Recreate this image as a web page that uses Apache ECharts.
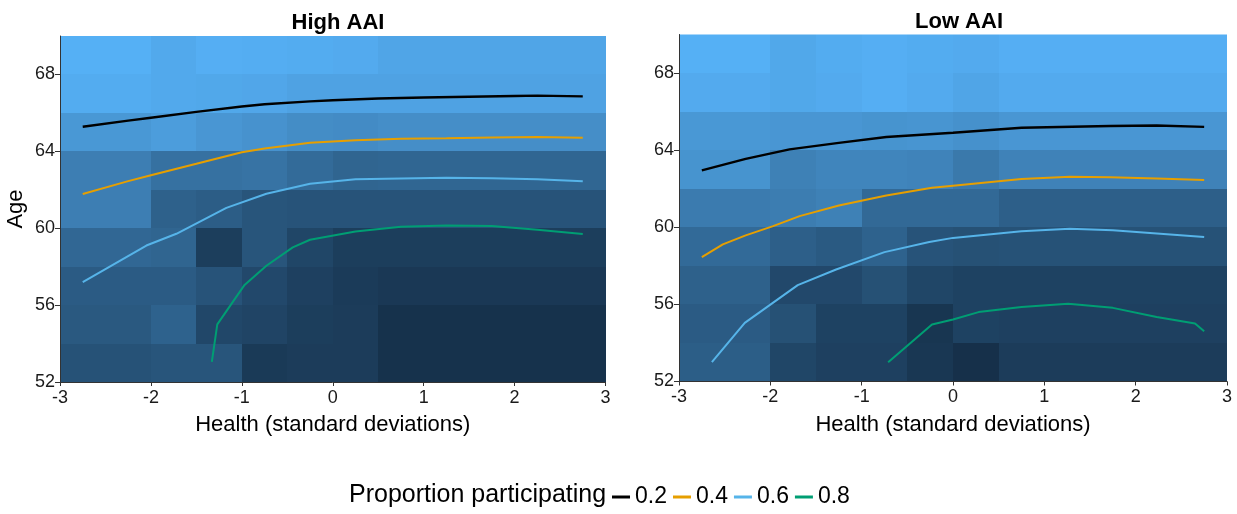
<!DOCTYPE html>
<html>
<head>
<meta charset="utf-8">
<script src="https://cdn.jsdelivr.net/npm/echarts@6/dist/echarts.min.js"></script>
<style>
  html, body { margin: 0; padding: 0; background: #ffffff; }
  #chart { width: 1237px; height: 514px; }
</style>
</head>
<body>
<div id="chart"></div>
<script>
// Health bins (standard deviations) and age bands used for the shaded tiles
const healthEdges = [-3, -2, -1.5, -1, -0.5, 0, 0.5, 3];
const ageEdges = [52, 54, 56, 58, 60, 62, 64, 66, 68, 70];

// Tile shade on the colour scale (0 = dark navy, 1 = light blue),
// one row per age band from 52-54 upwards, one column per health bin
const highShade = [
  [0.29, 0.31, 0.31, 0.11, 0.13, 0.13, 0.05],
  [0.34, 0.41, 0.21, 0.19, 0.14, 0.13, 0.05],
  [0.36, 0.36, 0.30, 0.22, 0.16, 0.12, 0.10],
  [0.45, 0.43, 0.14, 0.31, 0.20, 0.14, 0.14],
  [0.62, 0.40, 0.37, 0.31, 0.30, 0.30, 0.30],
  [0.62, 0.52, 0.52, 0.54, 0.48, 0.43, 0.44],
  [0.81, 0.85, 0.80, 0.77, 0.73, 0.72, 0.74],
  [0.96, 0.94, 0.93, 0.92, 0.89, 0.89, 0.89],
  [0.99, 0.94, 0.98, 0.97, 0.96, 0.95, 0.91]
];
const lowShade = [
  [0.38, 0.20, 0.16, 0.16, 0.09, 0.04, 0.13],
  [0.36, 0.28, 0.17, 0.17, 0.08, 0.17, 0.16],
  [0.40, 0.22, 0.22, 0.28, 0.20, 0.17, 0.17],
  [0.47, 0.39, 0.35, 0.41, 0.30, 0.28, 0.29],
  [0.60, 0.61, 0.64, 0.46, 0.46, 0.46, 0.39],
  [0.78, 0.64, 0.67, 0.67, 0.66, 0.58, 0.65],
  [0.81, 0.80, 0.80, 0.78, 0.79, 0.76, 0.80],
  [0.95, 0.93, 0.95, 0.98, 0.95, 0.91, 0.95],
  [0.99, 0.93, 0.96, 0.98, 0.96, 0.95, 0.98]
];

// Contour levels of the proportion participating and their colours
const levels = ['0.2', '0.4', '0.6', '0.8'];
const levelColors = ['#000000', '#E69F00', '#56B4E9', '#009E73'];

// Contours, [health, age] — High AAI
const high02 = [[-2.75, 65.28], [-2.25, 65.6], [-2, 65.75], [-1.5, 66.05], [-1, 66.33], [-0.75, 66.45],
  [-0.25, 66.6], [0, 66.66], [0.5, 66.75], [1, 66.8], [1.5, 66.84], [2, 66.88], [2.25, 66.9], [2.75, 66.86]];
const high04 = [[-2.75, 61.78], [-2.25, 62.45], [-2, 62.76], [-1.5, 63.35], [-1, 63.95], [-0.75, 64.15],
  [-0.25, 64.45], [0.25, 64.58], [0.75, 64.65], [1.25, 64.68], [1.75, 64.72], [2.25, 64.75], [2.75, 64.71]];
const high06 = [[-2.75, 57.19], [-2.05, 59.1], [-1.72, 59.71], [-1.17, 61.06], [-0.73, 61.79], [-0.25, 62.31],
  [0.25, 62.55], [1.25, 62.62], [1.75, 62.6], [2.25, 62.55], [2.75, 62.45]];
const high08 = [[-1.33, 53.05], [-1.27, 55.0], [-0.97, 57.05], [-0.73, 58.05], [-0.44, 59.0], [-0.25, 59.4],
  [0.25, 59.83], [0.75, 60.08], [1.25, 60.14], [1.75, 60.12], [2.25, 59.92], [2.75, 59.7]];

// Contours, [health, age] — Low AAI
const low02 = [[-2.75, 62.95], [-2.27, 63.55], [-1.79, 64.04], [-1.25, 64.38], [-0.73, 64.68], [0, 64.9],
  [0.75, 65.16], [1.72, 65.25], [2.23, 65.28], [2.75, 65.21]];
const low04 = [[-2.75, 58.45], [-2.52, 59.11], [-2.27, 59.58], [-1.97, 60.06], [-1.68, 60.58], [-1.25, 61.13],
  [-0.73, 61.65], [-0.23, 62.05], [0, 62.16], [0.75, 62.51], [1.28, 62.62], [1.72, 62.6], [2.23, 62.53], [2.75, 62.45]];
const low06 = [[-2.64, 53.0], [-2.28, 55.04], [-1.7, 57.0], [-1.28, 57.81], [-0.75, 58.71], [-0.26, 59.24],
  [0, 59.45], [0.75, 59.8], [1.28, 59.92], [1.75, 59.85], [2.75, 59.49]];
const low08 = [[-0.71, 53.0], [-0.23, 54.96], [0, 55.22], [0.28, 55.6], [0.75, 55.87], [1.26, 56.03],
  [1.75, 55.82], [2.23, 55.35], [2.65, 55.01], [2.75, 54.61]];

const panelTitles = ['High AAI', 'Low AAI'];
const xTitle = 'Health (standard deviations)';
const yTitle = 'Age';
const legendTitle = 'Proportion participating';
const xTicks = [-3, -2, -1, 0, 1, 2, 3];
const yTicks = [52, 56, 60, 64, 68];

const FONT = '"Liberation Sans", Arial, Helvetica, sans-serif';

// Turn a shade matrix into tile records [x0, x1, y0, y1, shade]
function tiles(shade) {
  const out = [];
  for (let r = 0; r < shade.length; r++) {
    for (let c = 0; c < shade[r].length; c++) {
      out.push([healthEdges[c], healthEdges[c + 1], ageEdges[r], ageEdges[r + 1], shade[r][c]]);
    }
  }
  return out;
}

// Tiles snap to whole pixels so neighbouring cells meet without seams
function renderTile(params, api) {
  const topLeft = api.coord([api.value(0), api.value(3)]);
  const bottomRight = api.coord([api.value(1), api.value(2)]);
  const x0 = Math.round(topLeft[0]);
  const y0 = Math.round(topLeft[1]);
  const x1 = Math.round(bottomRight[0]);
  const y1 = Math.round(bottomRight[1]);
  return {
    type: 'rect',
    shape: { x: x0, y: y0, width: x1 - x0, height: y1 - y0 },
    style: { fill: api.visual('color') }
  };
}

function xAxisFor(gridIndex) {
  return {
    type: 'value', gridIndex, min: -3, max: 3, interval: 1, z: 10,
    name: xTitle, nameLocation: 'middle', nameGap: 32,
    nameTextStyle: { fontSize: 22, color: '#000', fontFamily: FONT },
    axisLine: { show: true, onZero: false, lineStyle: { color: '#333', width: 1 } },
    axisTick: { show: true, length: 4, lineStyle: { color: '#333' }, customValues: xTicks },
    axisLabel: { fontSize: 18, color: '#1a1a1a', margin: 7, fontFamily: FONT, customValues: xTicks },
    splitLine: { show: false }
  };
}

function yAxisFor(gridIndex, withName) {
  return {
    type: 'value', gridIndex, min: 52, max: 70, interval: 4, z: 10,
    name: withName ? yTitle : '', nameLocation: 'middle', nameGap: 33,
    nameTextStyle: { fontSize: 22, color: '#000', fontFamily: FONT },
    axisLine: { show: true, onZero: false, lineStyle: { color: '#333', width: 1 } },
    axisTick: { show: true, length: 5, lineStyle: { color: '#333' }, customValues: yTicks },
    axisLabel: { fontSize: 18, color: '#1a1a1a', margin: 5, fontFamily: FONT, customValues: yTicks },
    splitLine: { show: false }
  };
}

function contour(name, data, colorIndex, axisIndex) {
  const color = levelColors[colorIndex];
  return {
    type: 'line', name, data,
    xAxisIndex: axisIndex, yAxisIndex: axisIndex,
    symbol: 'none', smooth: false, silent: true, z: 5,
    color,
    lineStyle: { color, width: colorIndex === 0 ? 2.4 : 2 }
  };
}

const chart = echarts.init(document.getElementById('chart'), null, { renderer: 'canvas' });

chart.setOption({
  backgroundColor: '#ffffff',
  animation: false,
  textStyle: { fontFamily: FONT },
  title: [
    { text: panelTitles[0], left: 333, top: 7, textAlign: 'center',
      textStyle: { fontSize: 22, fontWeight: 'bold', color: '#000', fontFamily: FONT } },
    { text: panelTitles[1], left: 954, top: 6, textAlign: 'center',
      textStyle: { fontSize: 22, fontWeight: 'bold', color: '#000', fontFamily: FONT } }
  ],
  grid: [
    { left: 60, top: 36, width: 545.5, height: 346 },
    { left: 679, top: 34.5, width: 548, height: 347 }
  ],
  xAxis: [xAxisFor(0), xAxisFor(1)],
  yAxis: [yAxisFor(0, true), yAxisFor(1, false)],
  visualMap: {
    type: 'continuous', show: false, dimension: 4, seriesIndex: [0, 1],
    min: 0, max: 1, inRange: { color: ['#132B43', '#56B1F7'] }
  },
  legend: {
    data: levels, left: 612, top: 485.5, padding: 0,
    icon: 'rect', itemWidth: 18, itemHeight: 3, itemGap: 6,
    selectedMode: false,
    textStyle: { fontSize: 23, color: '#000', fontFamily: FONT }
  },
  graphic: [{
    type: 'text', left: 349, top: 483,
    style: { text: legendTitle, fontSize: 25, fill: '#000', fontFamily: FONT }
  }],
  series: [
    { type: 'custom', renderItem: renderTile, data: tiles(highShade),
      xAxisIndex: 0, yAxisIndex: 0, encode: { x: [0, 1], y: [2, 3] }, clip: true, silent: true, z: 1 },
    { type: 'custom', renderItem: renderTile, data: tiles(lowShade),
      xAxisIndex: 1, yAxisIndex: 1, encode: { x: [0, 1], y: [2, 3] }, clip: true, silent: true, z: 1 },
    contour(levels[0], high02, 0, 0),
    contour(levels[1], high04, 1, 0),
    contour(levels[2], high06, 2, 0),
    contour(levels[3], high08, 3, 0),
    contour(levels[0], low02, 0, 1),
    contour(levels[1], low04, 1, 1),
    contour(levels[2], low06, 2, 1),
    contour(levels[3], low08, 3, 1)
  ]
});
</script>
</body>
</html>
